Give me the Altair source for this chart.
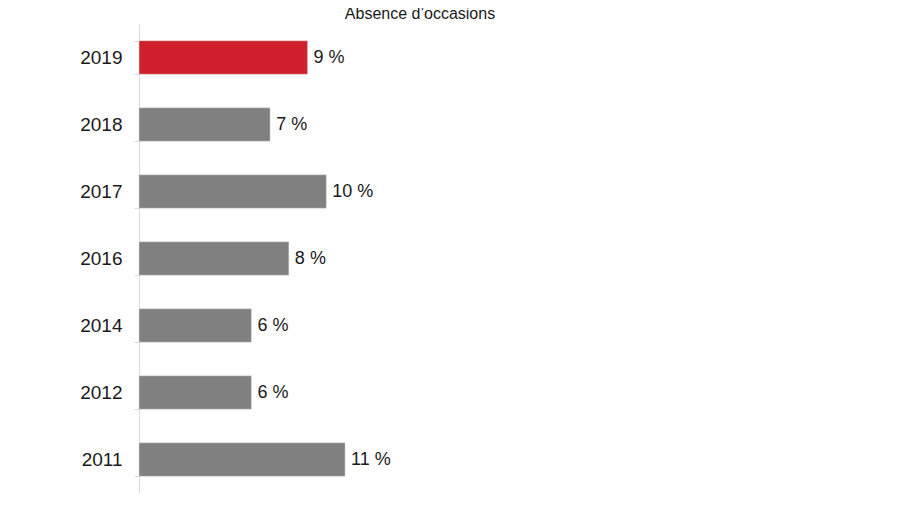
import altair as alt
import pandas as pd

years = ["2019", "2018", "2017", "2016", "2014", "2012", "2011"]
values = [9, 7, 10, 8, 6, 6, 11]
labels = ["9 %", "7 %", "10 %", "8 %", "6 %", "6 %", "11 %"]
highlight = ["oui", "non", "non", "non", "non", "non", "non"]

df = pd.DataFrame({"year": years, "value": values, "label": labels, "hl": highlight})

FONT = "Liberation Sans"

base = alt.Chart(df).encode(
    y=alt.Y("year:N", sort=years, title=None,
            scale=alt.Scale(paddingInner=0.5, paddingOuter=0.25),
            axis=alt.Axis(labelFontSize=19, labelColor="#1a1a1a", labelFont=FONT,
                          labelPadding=12, tickSize=5, tickColor="#d9d9d9",
                          domainColor="#d9d9d9", tickBand="extent", labelFontWeight="normal")),
)

bars = base.mark_bar(stroke="#e0e0e0", strokeWidth=0.5).encode(
    x=alt.X("value:Q", scale=alt.Scale(domain=[0, 30]), axis=None),
    color=alt.Color("hl:N", scale=alt.Scale(domain=["oui", "non"], range=["#d0202e", "#808080"]), legend=None),
)

text = base.mark_text(align="left", dx=6, fontSize=18, font=FONT, color="#1a1a1a").encode(
    x=alt.X("value:Q"),
    text="label:N",
)

chart = (bars + text).properties(
    width=562, height=469,
    title=alt.TitleParams("Absence d’occasions", fontSize=16, font=FONT, fontWeight="normal",
                          color="#1a1a1a", anchor="middle", offset=-7),
    autosize=alt.AutoSizeParams(type="none"),
    padding={"left": 131, "top": 16, "right": 0, "bottom": 0},
).configure_view(stroke=None)

chart.save("out.html", embed_options={"renderer": "svg", "actions": False})
